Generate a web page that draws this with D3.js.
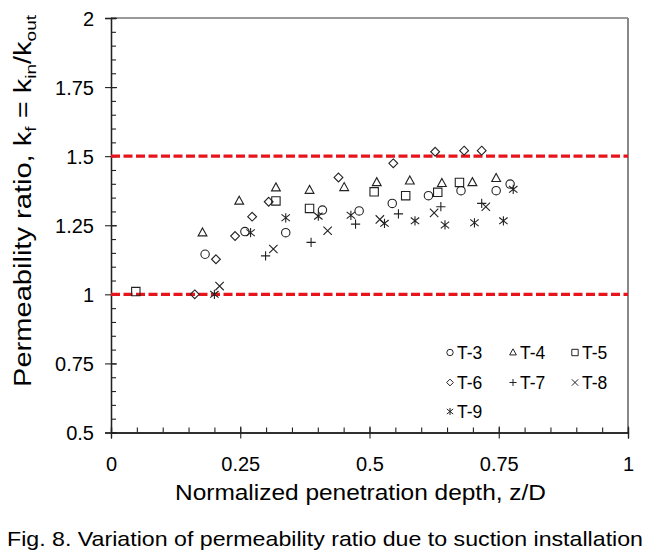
<!DOCTYPE html>
<html><head><meta charset="utf-8">
<script src="https://cdn.jsdelivr.net/npm/d3@7"></script>
<style>body{margin:0;background:#fff}svg{display:block}text{font-family:"Liberation Sans",Arial,sans-serif;fill:#000}</style>
</head><body><svg id="c" width="653" height="559"></svg>
<script>
const xTicks = [0, 0.25, 0.5, 0.75, 1];
const xTickLabels = ["0", "0.25", "0.5", "0.75", "1"];
const yTicks = [0.5, 0.75, 1, 1.25, 1.5, 1.75, 2];
const yTickLabels = ["0.5", "0.75", "1", "1.25", "1.5", "1.75", "2"];
const refLines = [1.0, 1.5];
const seriesNames = ["T-3", "T-4", "T-5", "T-6", "T-7", "T-8", "T-9"];
const seriesShapes = ["circle", "triangle", "square", "diamond", "plus", "cross", "asterisk"];
const t3 = [[0.182,1.145],[0.259,1.227],[0.338,1.223],[0.409,1.305],[0.480,1.302],[0.544,1.329],[0.614,1.357],[0.677,1.375],[0.745,1.375],[0.772,1.399]];
const t4 = [[0.177,1.223],[0.248,1.338],[0.319,1.386],[0.384,1.377],[0.451,1.387],[0.514,1.405],[0.578,1.411],[0.640,1.402],[0.699,1.405],[0.745,1.420]];
const t5 = [[0.048,1.010],[0.319,1.338],[0.384,1.311],[0.509,1.371],[0.570,1.357],[0.632,1.369],[0.674,1.405]];
const t6 = [[0.162,1.000],[0.203,1.127],[0.240,1.211],[0.273,1.281],[0.305,1.335],[0.440,1.423],[0.546,1.474],[0.627,1.516],[0.683,1.520],[0.717,1.520]];
const t7 = [[0.299,1.139],[0.387,1.188],[0.473,1.254],[0.556,1.291],[0.638,1.317],[0.717,1.329]];
const t8 = [[0.210,1.030],[0.314,1.164],[0.419,1.230],[0.520,1.271],[0.625,1.295],[0.725,1.317]];
const t9 = [[0.200,1.000],[0.270,1.223],[0.338,1.277],[0.401,1.283],[0.464,1.286],[0.529,1.257],[0.588,1.266],[0.646,1.251],[0.703,1.259],[0.759,1.266],[0.778,1.380]];
const seriesData = [t3, t4, t5, t6, t7, t8, t9];

const svg = d3.select("#c");
const L = 111, R = 628, T = 18, B = 432.5;
const x = d3.scaleLinear().domain([0, 1]).range([L, R]);
const y = d3.scaleLinear().domain([0.5, 2]).range([B, T]);

function shapePath(s, r) {
  switch (s) {
    case "circle": return `M${-r},0A${r},${r} 0 1,0 ${r},0A${r},${r} 0 1,0 ${-r},0Z`;
    case "triangle": { const h = r * 1.9; return `M0,${-h*0.6}L${r*1.05},${h*0.4}L${-r*1.05},${h*0.4}Z`; }
    case "square": return `M${-r},${-r}H${r}V${r}H${-r}Z`;
    case "diamond": return `M0,${-r*1.05}L${r*1.05},0L0,${r*1.05}L${-r*1.05},0Z`;
    case "plus": return `M${-r*1.1},0H${r*1.1}M0,${-r*1.1}V${r*1.1}`;
    case "cross": return `M${-r},${-r}L${r},${r}M${-r},${r}L${r},${-r}`;
    case "asterisk": return `M${-r},${-r*0.8}L${r},${r*0.8}M${-r},${r*0.8}L${r},${-r*0.8}M0,${-r*1.1}V${r*1.1}`;
  }
}

// frame (top and right)
svg.append("line").attr("x1", L).attr("x2", R).attr("y1", T).attr("y2", T).attr("stroke", "#777").attr("stroke-width", 1.3);
svg.append("line").attr("x1", R).attr("x2", R).attr("y1", T).attr("y2", B).attr("stroke", "#888").attr("stroke-width", 2);

// minor ticks
const xMinor = d3.range(0, 1.0001, 0.05).map(v => +v.toFixed(2));
const yMinor = d3.range(0.5, 2.0001, 0.05).map(v => +v.toFixed(2));
const gx = svg.append("g").attr("transform", `translate(0,${B})`);
gx.call(d3.axisBottom(x).tickValues(xMinor).tickSize(-5).tickFormat(""));
const gy = svg.append("g").attr("transform", `translate(${L},0)`);
gy.call(d3.axisLeft(y).tickValues(yMinor).tickSize(-5).tickFormat(""));
// major ticks
const gxM = svg.append("g").attr("transform", `translate(0,${B})`);
gxM.call(d3.axisBottom(x).tickValues(xTicks).tickSize(6).tickFormat((d, i) => xTickLabels[i]));
gxM.selectAll(".tick line").attr("y1", -6).attr("y2", 6);
gxM.selectAll(".tick text").attr("y", 24).attr("dy", "0.71em").style("font-size", "20px");
const gyM = svg.append("g").attr("transform", `translate(${L},0)`);
gyM.call(d3.axisLeft(y).tickValues(yTicks).tickSize(6).tickFormat((d, i) => yTickLabels[i]));
gyM.selectAll(".tick line").attr("x1", -6).attr("x2", 6);
gyM.selectAll(".tick text").attr("x", -17).attr("dy", "0.35em").style("font-size", "20px");
svg.selectAll(".domain").attr("stroke", "#222").attr("stroke-width", 1.3);
svg.selectAll(".tick line").attr("stroke", "#222").attr("stroke-width", 1.1);
svg.selectAll("g").attr("font-family", null).attr("font-size", null);

// reference lines
svg.selectAll(".ref").data(refLines).join("line").attr("class", "ref")
  .attr("x1", x(0)).attr("x2", x(1)).attr("y1", d => y(d)).attr("y2", d => y(d))
  .attr("stroke", "#e8141c").attr("stroke-width", 3.3).attr("stroke-dasharray", "9,3.5");

// data
seriesData.forEach((data, i) => {
  svg.append("g").selectAll("path").data(data).join("path")
    .attr("transform", d => `translate(${x(d[0])},${y(d[1])})`)
    .attr("d", shapePath(seriesShapes[i], 4.2))
    .attr("fill", "none").attr("stroke", "#222").attr("stroke-width", 1.1);
});

// legend
const legX = [450, 513, 575], legY = [352.5, 382.5, 411.5];
seriesNames.forEach((n, i) => {
  const cx = legX[i % 3], cy = legY[Math.floor(i / 3)];
  svg.append("path").attr("transform", `translate(${cx},${cy})`).attr("d", shapePath(seriesShapes[i], 3.2))
    .attr("fill", "none").attr("stroke", "#222").attr("stroke-width", 1);
  svg.append("text").attr("x", cx + 7).attr("y", cy).attr("dy", "0.36em").style("font-size", "17.5px").text(n);
});

// axis titles
svg.append("text").attr("x", 175).attr("y", 500).attr("textLength", 371).attr("lengthAdjust", "spacingAndGlyphs")
  .style("font-size", "22px").text("Normalized penetration depth, z/D");
const yt = svg.append("text").attr("transform", "translate(31,387) rotate(-90)").attr("textLength", 372).attr("lengthAdjust", "spacingAndGlyphs").style("font-size", "23px");
yt.append("tspan").text("Permeability ratio, k");
yt.append("tspan").attr("dy", 5).style("font-size", "15px").text("f");
yt.append("tspan").attr("dy", -5).text(" = k");
yt.append("tspan").attr("dy", 5).style("font-size", "15px").text("in");
yt.append("tspan").attr("dy", -5).text("/k");
yt.append("tspan").attr("dy", 5).style("font-size", "15px").text("out");

// caption
svg.append("text").attr("x", 7).attr("y", 546).attr("textLength", 636).attr("lengthAdjust", "spacingAndGlyphs")
  .style("font-size", "21px").text("Fig. 8. Variation of permeability ratio due to suction installation");
</script></body></html>
